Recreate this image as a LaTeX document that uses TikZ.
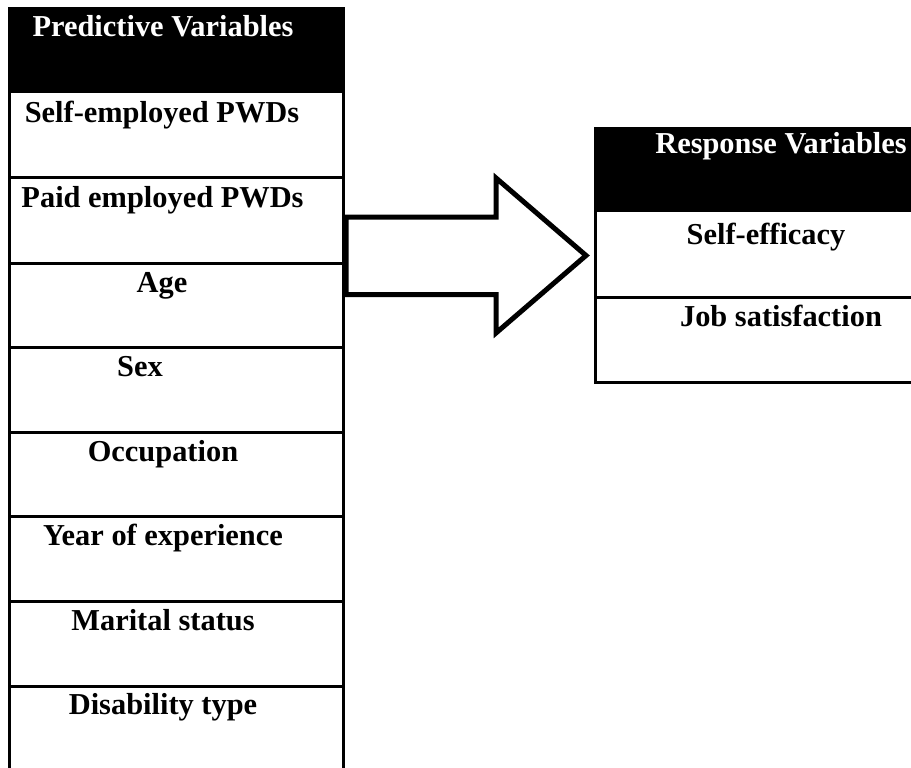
\documentclass[tikz,border=0pt]{standalone}
\usepackage{fontspec}
\setmainfont{Liberation Serif}
\begin{document}
\begin{tikzpicture}[x=1pt,y=-1pt,
  lbl/.style={anchor=base,inner sep=0pt,font=\fontsize{30.4}{33}\selectfont\bfseries},
  hdr/.style={lbl,text=white},
  grid/.style={line width=3pt,line cap=rect},
  bigarrow/.style={line width=5pt,miter limit=10,fill=white}]
\useasboundingbox (0,0) rectangle (911,768);
% left table
\fill[black] (8,7) rectangle (345,93);
\foreach \yy in {177,263,347.5,432,516.5,601,686}{\draw[grid] (9.5,\yy) -- (343.5,\yy);}
\draw[grid] (9.5,93) -- (9.5,775);
\draw[grid] (343.5,93) -- (343.5,775);
\node[hdr] (pv) at (163,37) {Predictive Variables};
\node[lbl] (se) at (162,122) {Self-employed PWDs};
\node[lbl] (pe) at (162.5,207) {Paid employed PWDs};
\node[lbl] (age) at (162,292) {Age};
\node[lbl] (sex) at (140,376) {Sex};
\node[lbl] (occ) at (163,461) {Occupation};
\node[lbl] (yoe) at (163,545) {Year of experience};
\node[lbl] (ms) at (163,630) {Marital status};
\node[lbl] (dt) at (163,714) {Disability type};
% right table
\fill[black] (594,127) rectangle (915,212);
\draw[grid] (595.5,212) -- (595.5,382);
\draw[grid] (595.5,297) -- (915,297);
\draw[grid] (595.5,382) -- (915,382);
\node[hdr] (rv) at (781,153) {Response Variables};
\node[lbl] (sef) at (766,244) {Self-efficacy};
\node[lbl] (js) at (781,326) {Job satisfaction};
% block arrow
\coordinate (a1) at (346,217);
\coordinate (a2) at (346,294.5);
\draw[bigarrow] (a1) -- (496,217) -- (496,178) -- (586,255.5) -- (496,333) -- (496,294.5) -- (a2) -- cycle;
\end{tikzpicture}
\end{document}
